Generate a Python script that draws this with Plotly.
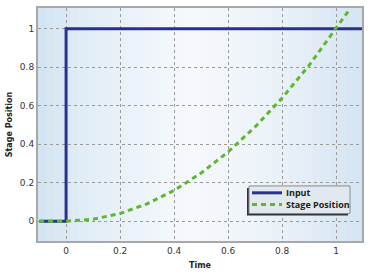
import plotly.graph_objects as go

input_t = [-0.1, 0, 0, 1.1]
input_y = [0, 0, 1, 1]

stage_t = [-0.1, 0, 0.1, 0.2, 0.3, 0.4, 0.5, 0.6, 0.7, 0.8, 0.9, 1.0, 1.05]
stage_y = [0, 0, 0.01, 0.04, 0.09, 0.16, 0.25, 0.36, 0.49, 0.64, 0.81, 1.0, 1.1]

x_ticks = [0, 0.2, 0.4, 0.6, 0.8, 1]
y_ticks = [0, 0.2, 0.4, 0.6, 0.8, 1]

series_names = ["Input", "Stage Position"]
series_colors = ["#27328f", "#5cb82c"]

fig = go.Figure()
fig.add_trace(go.Scatter(x=input_t, y=input_y, mode="lines", name=series_names[0],
                         line=dict(color=series_colors[0], width=3)))
fig.add_trace(go.Scatter(x=stage_t, y=stage_y, mode="lines", name=series_names[1],
                         line=dict(color=series_colors[1], width=3, dash="5px,4px")))

# background gradient bands (styling only)
def lerp(c1, c2, f):
    return "rgb(%d,%d,%d)" % tuple(round(a + (b - a) * f) for a, b in zip(c1, c2))

edge_l = (208, 226, 241)
mid = (245, 248, 252)
edge_r = (212, 228, 242)
n = 40
shapes = []
for i in range(n):
    f = (i + 0.5) / n
    if f < 0.45:
        col = lerp(edge_l, mid, (f / 0.45) ** 0.7)
    else:
        col = lerp(mid, edge_r, ((f - 0.45) / 0.55) ** 1.6)
    shapes.append(dict(type="rect", xref="paper", yref="paper", x0=i / n, x1=(i + 1) / n + 0.002,
                       y0=0, y1=1, fillcolor=col, line=dict(width=0), layer="below"))

# legend box drawn manually
W, H, L, T = 324, 237, 38, 6
def px(x): return (x - L) / W
def py(y): return (T + H - y) / H

shapes.append(dict(type="rect", xref="paper", yref="paper", x0=px(247), x1=px(348), y0=py(217), y1=py(189),
                   fillcolor="#333333", line=dict(width=0)))
shapes.append(dict(type="rect", xref="paper", yref="paper", x0=px(249), x1=px(350), y0=py(215), y1=py(187),
                   fillcolor="#e2e8ef", line=dict(color="#8a8a8a", width=1)))
shapes.append(dict(type="line", xref="paper", yref="paper", x0=px(252), x1=px(282), y0=py(194), y1=py(194),
                   line=dict(color=series_colors[0], width=3)))
shapes.append(dict(type="line", xref="paper", yref="paper", x0=px(252), x1=px(282), y0=py(206), y1=py(206),
                   line=dict(color=series_colors[1], width=3, dash="5px,4px")))

annotations = []
for name, yy in zip(series_names, [194, 206]):
    annotations.append(dict(xref="paper", yref="paper", x=px(284), y=py(yy), text="<b>%s</b>" % name,
                            showarrow=False, xanchor="left", yanchor="middle",
                            font=dict(family="Open Sans", size=9, color="#222")))

axis_common = dict(showgrid=True, gridcolor="#9a9a9a", griddash="dot", gridwidth=1,
                   zeroline=False, showline=True, linecolor="#a8a8a8", linewidth=2,
                   mirror=True, ticks="",
                   tickfont=dict(family="DejaVu Sans", size=9, color="#333"))

fig.update_layout(
    width=370, height=275,
    margin=dict(l=L, r=8, t=T, b=32),
    paper_bgcolor="white",
    plot_bgcolor="#e9f0f7",
    font=dict(family="DejaVu Sans", size=9, color="#222"),
    xaxis=dict(range=[-0.104, 1.096], tickvals=x_ticks,
               title=dict(text="<b>Time</b>", font=dict(size=8), standoff=8), **axis_common),
    yaxis=dict(range=[-0.103, 1.108], tickvals=y_ticks,
               title=dict(text="<b>Stage Position</b>", font=dict(size=8), standoff=6), **axis_common),
    shapes=shapes,
    annotations=annotations,
    showlegend=False,
)

fig.write_html("out.html")
